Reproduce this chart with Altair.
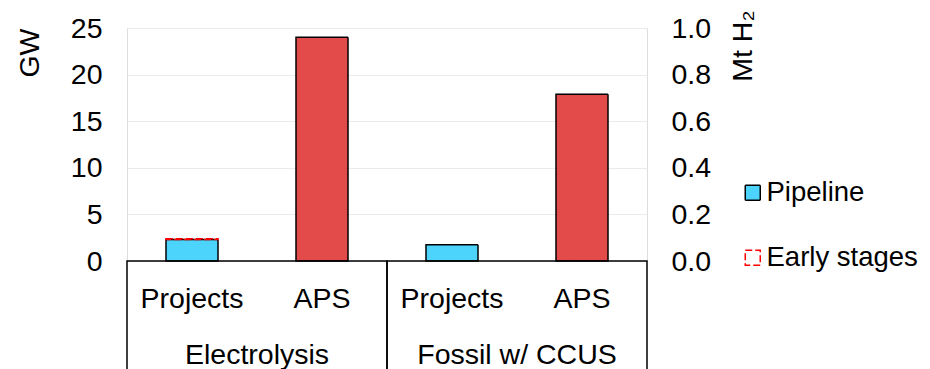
import altair as alt
import pandas as pd

# ---- data ----
group_names = ["Electrolysis", "Fossil w/ CCUS"]
case_names = ["Projects", "APS"]
pipeline_gw = [2.3, 1.75]      # Projects: pipeline
early_gw = [0.1, 0.0]          # Projects: early stages
aps_gw = [24.0, 17.9]          # APS
series_names = ["Pipeline", "Early stages", "APS"]
series_fill = ["#4dd4fc", "transparent", "#e34b4b"]
series_stroke = ["#000000", "#ff0000", "#000000"]
series_dash = [[1, 0], [7, 3], [1, 0]]
gw_ticks = [0, 5, 10, 15, 20, 25]
mt_ticks = [0.0, 0.2, 0.4, 0.6, 0.8, 1.0]

FONT = "Liberation Sans"
FS = 28.5

rows = []
for i, g in enumerate(group_names):
    rows.append({"group": g, "case": "Projects", "key": g + "|Projects", "series": "Pipeline", "gw": pipeline_gw[i], "ord": 1})
    if early_gw[i] > 0:
        rows.append({"group": g, "case": "Projects", "key": g + "|Projects", "series": "Early stages", "gw": early_gw[i], "ord": 2})
    rows.append({"group": g, "case": "APS", "key": g + "|APS", "series": "APS", "gw": aps_gw[i], "ord": 1})
df = pd.DataFrame(rows)

keys = [g + "|" + c for g in group_names for c in case_names]
df_keys = pd.DataFrame({"key": keys, "case": [c for g in group_names for c in case_names]})
df_groups = pd.DataFrame({"group": group_names})

xscale = alt.Scale(domain=keys, paddingInner=0.6, paddingOuter=0.3)

leg = alt.Legend(
    title=None, orient="none", legendX=612, legendY=151, values=["Pipeline", "Early stages"],
    symbolType="square", symbolSize=225, symbolStrokeWidth=1.5, labelFont=FONT, labelFontSize=27.5,
    labelColor="black", rowPadding=36, labelOffset=0, padding=0, labelLimit=400,
)

bars = alt.Chart(df).mark_bar(strokeWidth=1.5).encode(
    x=alt.X("key:N", scale=xscale, axis=None),
    y=alt.Y("gw:Q", stack="zero", scale=alt.Scale(domain=[0, 25]),
            axis=alt.Axis(values=gw_ticks, grid=True, gridColor="#ebebeb", gridWidth=1.2,
                          domain=False, ticks=False, labelPadding=25, labelFont=FONT,
                          labelFontSize=FS, labelColor="black", title="GW", titleFont=FONT,
                          titleFontSize=FS, titleFontWeight="normal", titleColor="black",
                          titleAngle=270, titleAlign="right", titleBaseline="alphabetic",
                          titleX=-89, titleY=0)),
    fill=alt.Fill("series:N", scale=alt.Scale(domain=series_names, range=series_fill), legend=leg),
    stroke=alt.Stroke("series:N", scale=alt.Scale(domain=series_names, range=series_stroke), legend=leg),
    strokeDash=alt.StrokeDash("series:N", scale=alt.Scale(domain=series_names, range=series_dash), legend=leg),
    order=alt.Order("ord:Q"),
)

right = alt.Chart(df).transform_calculate(mt="datum.gw / 25").mark_point(opacity=0).encode(
    y=alt.Y("mt:Q", scale=alt.Scale(domain=[0, 1]),
            axis=alt.Axis(orient="right", values=mt_ticks, format=".1f", grid=False, domain=False,
                          ticks=False, labelPadding=24, labelFont=FONT, labelFontSize=FS,
                          labelColor="black", title="Mt H₂", titleFont=FONT, titleFontSize=FS,
                          titleFontWeight="normal", titleColor="black", titleAngle=270,
                          titleAlign="right", titleBaseline="alphabetic", titleX=104, titleY=-18)),
)

sub = alt.Chart(df_keys).mark_text(font=FONT, fontSize=FS, baseline="middle", color="black").encode(
    x=alt.X("key:N", scale=xscale, axis=None),
    y=alt.value(271),
    text="case:N",
)

gscale = alt.Scale(domain=group_names, paddingInner=0, paddingOuter=0)
grp_box = alt.Chart(df_groups).mark_rect(fill="transparent", stroke="black", strokeWidth=1.5).encode(
    x=alt.X("group:N", scale=gscale, axis=None),
    y=alt.value(233),
    y2=alt.value(420),
)
grp_txt = alt.Chart(df_groups).mark_text(font=FONT, fontSize=FS, baseline="middle", color="black").encode(
    x=alt.X("group:N", scale=gscale, axis=None),
    y=alt.value(327),
    text="group:N",
)

chart = alt.layer(bars, right, sub, grp_box, grp_txt).resolve_scale(
    x="independent", y="independent"
).properties(
    width=520, height=233,
    autosize=alt.AutoSizeParams(type="none"),
    padding={"left": 119, "top": 20, "right": 275, "bottom": 120},
).configure_view(stroke=None).configure(background="white")

chart.save("out.html", embed_options={"renderer": "svg", "actions": False})
